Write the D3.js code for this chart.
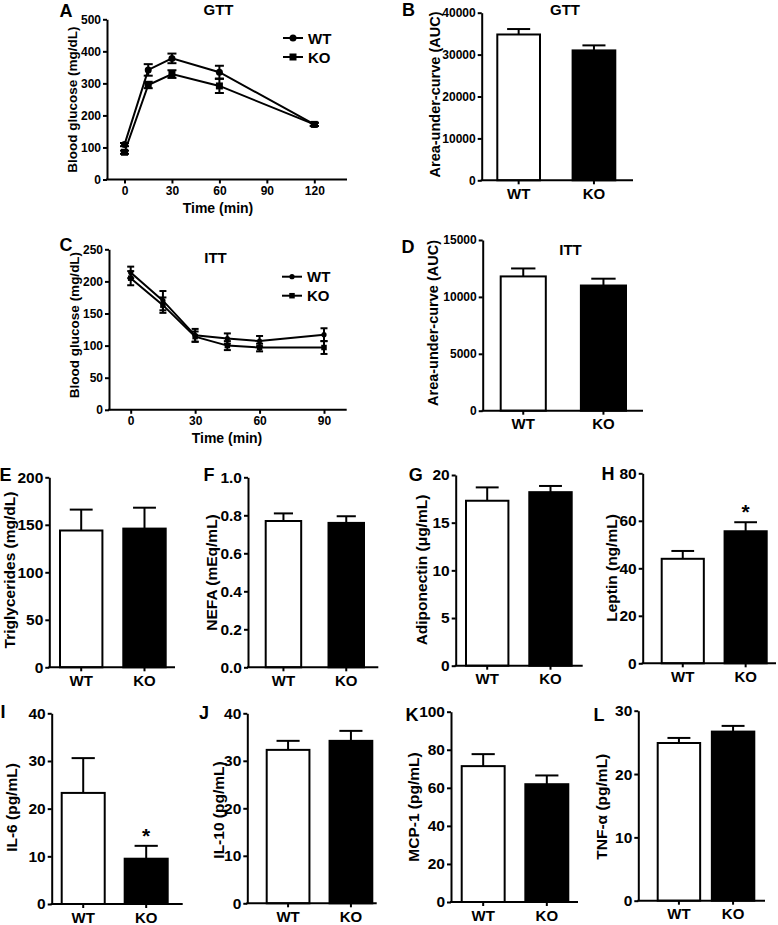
<!DOCTYPE html>
<html><head><meta charset="utf-8">
<script src="https://cdn.jsdelivr.net/npm/d3@7"></script>
<style>
body{margin:0;background:#fff}
svg{display:block}
text{font-family:"Liberation Sans",Arial,Helvetica,sans-serif;font-weight:bold;fill:#000}
</style>
</head><body>
<svg id="c" width="778" height="925"></svg>
<script>
// ---------------- data ----------------
const groups = ["WT", "KO"];

const gttTime = [0, 15, 30, 60, 120];
const gttWT = [109, 342, 378, 335, 172];
const gttWTsem = [5, 18, 15, 20, 5];
const gttKO = [85, 295, 329, 292, 172];
const gttKOsem = [5, 10, 12, 22, 5];
const gttTicksX = [0, 30, 60, 90, 120];
const gttTicksY = [0, 100, 200, 300, 400, 500];

const ittTime = [0, 15, 30, 45, 60, 90];
const ittWT = [214, 170, 116, 111, 107, 117];
const ittWTsem = [9, 15, 10, 8, 8, 10];
const ittKO = [205, 163, 114, 100, 97, 97];
const ittKOsem = [11, 12, 8, 7, 6, 10];
const ittTicksX = [0, 30, 60, 90];
const ittTicksY = [0, 50, 100, 150, 200, 250];

const aucGTT = [34800, 31000], aucGTTsem = [1300, 1200];
const aucITT = [11800, 11000], aucITTsem = [700, 600];
const triglycerides = [144, 146], triglyceridesSem = [22, 22];
const nefa = [0.77, 0.76], nefaSem = [0.04, 0.035];
const adiponectin = [17.3, 18.2], adiponectinSem = [1.4, 0.65];
const leptin = [44, 55.6], leptinSem = [3.3, 3.8];
const il6 = [23.3, 9.5], il6Sem = [7.3, 2.7];
const il10 = [32.3, 34.2], il10Sem = [1.9, 2.1];
const mcp1 = [71.4, 61.9], mcp1Sem = [6.3, 4.6];
const tnfa = [24.9, 26.7], tnfaSem = [0.8, 0.9];

const ticksB = [0, 10000, 20000, 30000, 40000];
const ticksD = [0, 5000, 10000, 15000];
const ticksE = [0, 50, 100, 150, 200];
const ticksF = [0, 0.2, 0.4, 0.6, 0.8, 1.0];
const ticksG = [0, 5, 10, 15, 20];
const ticksH = [0, 20, 40, 60, 80];
const ticksIJ = [0, 10, 20, 30, 40];
const ticksK = [0, 20, 40, 60, 80, 100];
const ticksL = [0, 10, 20, 30];

// ---------------- drawing ----------------
const svg = d3.select("#c");
svg.append("rect").attr("width", 778).attr("height", 925).attr("fill", "#fff");

function letter(t, x, y) {
  svg.append("text").attr("x", x).attr("y", y + 6.5).attr("text-anchor", "middle")
    .style("font-size", "18px").text(t);
}
function title(t, x, y) {
  svg.append("text").attr("x", x).attr("y", y + 5.3).attr("text-anchor", "middle")
    .style("font-size", "15px").text(t);
}
function yLabel(t, x, y, fs) {
  svg.append("text").attr("transform", `translate(${x},${y}) rotate(-90)`)
    .attr("text-anchor", "middle").style("font-size", fs + "px").text(t);
}
function styleAxis(g, fs) {
  g.selectAll("path.domain").attr("stroke", "#000").attr("stroke-width", 2);
  g.selectAll(".tick line").attr("stroke", "#000").attr("stroke-width", 2);
  g.selectAll(".tick text").style("font-size", fs + "px")
    .style("font-family", '"Liberation Sans",Arial,sans-serif').style("font-weight", "bold").attr("fill", "#000");
}

function linePanel(c) {
  const x = d3.scaleLinear().domain([0, c.xRef]).range([c.xa, c.xb]);
  const y = d3.scaleLinear().domain([0, c.yMax]).range([c.yBot, c.yTop]);
  const gy = svg.append("g").attr("transform", `translate(${c.x0},0)`)
    .call(d3.axisLeft(y).tickValues(c.ticksY).tickSize(4).tickPadding(2).tickSizeOuter(0));
  styleAxis(gy, c.tickFs);
  const gx = svg.append("g").attr("transform", `translate(0,${c.yBot})`)
    .call(d3.axisBottom(x).tickValues(c.ticksX).tickSize(4).tickPadding(3).tickSizeOuter(0));
  gx.select("path.domain").remove();
  styleAxis(gx, c.tickFs);
  svg.append("line").attr("x1", c.x0 - 1).attr("x2", c.x1).attr("y1", c.yBot).attr("y2", c.yBot)
    .attr("stroke", "#000").attr("stroke-width", 2);

  const series = [
    {v: c.wt, s: c.wtSem, shape: "circle"},
    {v: c.ko, s: c.koSem, shape: "square"}
  ];
  series.forEach(se => {
    const pts = c.time.map((t, i) => ({t, v: se.v[i], s: se.s[i]}));
    const g = svg.append("g");
    pts.forEach(p => {
      const cx = x(p.t);
      g.append("line").attr("x1", cx).attr("x2", cx).attr("y1", y(p.v - p.s)).attr("y2", y(p.v + p.s))
        .attr("stroke", "#000").attr("stroke-width", 2);
      [p.v - p.s, p.v + p.s].forEach(e => g.append("line").attr("x1", cx - c.cap / 2).attr("x2", cx + c.cap / 2)
        .attr("y1", y(e)).attr("y2", y(e)).attr("stroke", "#000").attr("stroke-width", 2));
    });
    g.append("path").datum(pts).attr("fill", "none").attr("stroke", "#000").attr("stroke-width", 2)
      .attr("d", d3.line().x(d => x(d.t)).y(d => y(d.v)));
    pts.forEach(p => {
      if (se.shape === "circle") g.append("circle").attr("cx", x(p.t)).attr("cy", y(p.v)).attr("r", c.r);
      else g.append("rect").attr("x", x(p.t) - c.sq / 2).attr("y", y(p.v) - c.sq / 2).attr("width", c.sq).attr("height", c.sq);
    });
  });
  // legend
  groups.forEach((gname, i) => {
    const ly = c.legY[i];
    svg.append("line").attr("x1", c.legX).attr("x2", c.legX + 20).attr("y1", ly).attr("y2", ly)
      .attr("stroke", "#000").attr("stroke-width", 2);
    if (i === 0) svg.append("circle").attr("cx", c.legX + 10).attr("cy", ly).attr("r", c.r);
    else svg.append("rect").attr("x", c.legX + 10 - c.sq / 2).attr("y", ly - c.sq / 2).attr("width", c.sq).attr("height", c.sq);
    svg.append("text").attr("x", c.legX + 25).attr("y", ly + 5.5).style("font-size", c.legFs + "px").text(gname);
  });
  letter(c.letter, c.lx, c.ly);
  title(c.title, c.tx, c.ty);
  yLabel("Blood glucose (mg/dL)", c.ylx, c.yly, 13.5);
  svg.append("text").attr("x", c.xlx).attr("y", c.xly).attr("text-anchor", "middle")
    .style("font-size", "14px").text("Time (min)");
}

function barPanel(c) {
  const x = d3.scaleBand().domain(groups).range([c.b0, c.b1]).paddingInner(c.p).paddingOuter(0);
  const y = d3.scaleLinear().domain([0, c.yMax]).range([c.yBot, c.yTop]);
  const bw = x.bandwidth();
  groups.forEach((gname, i) => {
    const v = c.vals[i], s = c.sems[i];
    const cx = x(gname) + bw / 2;
    svg.append("line").attr("x1", cx).attr("x2", cx).attr("y1", y(v)).attr("y2", y(v + s))
      .attr("stroke", "#000").attr("stroke-width", 2);
    svg.append("line").attr("x1", cx - bw * 0.27).attr("x2", cx + bw * 0.27).attr("y1", y(v + s)).attr("y2", y(v + s))
      .attr("stroke", "#000").attr("stroke-width", 2);
    svg.append("rect").attr("x", x(gname)).attr("y", y(v)).attr("width", bw).attr("height", y(0) - y(v))
      .attr("fill", i === 0 ? "#fff" : "#000").attr("stroke", "#000").attr("stroke-width", 2);
    if (c.star && i === 1) {
      svg.append("text").attr("x", cx).attr("y", y(v + s) - 3).attr("text-anchor", "middle")
        .style("font-size", "21px").text("*");
    }
  });
  const gy = svg.append("g").attr("transform", `translate(${c.x0},0)`)
    .call(d3.axisLeft(y).tickValues(c.ticks).tickFormat(d3.format(c.fmt)).tickSize(4).tickPadding(2).tickSizeOuter(0));
  styleAxis(gy, c.tickFs);
  const gx = svg.append("g").attr("transform", `translate(0,${c.yBot})`)
    .call(d3.axisBottom(x).tickSize(4).tickPadding(4).tickSizeOuter(0));
  gx.select("path.domain").remove();
  styleAxis(gx, 15);
  svg.append("line").attr("x1", c.x0 - 1).attr("x2", c.x1).attr("y1", c.yBot).attr("y2", c.yBot)
    .attr("stroke", "#000").attr("stroke-width", 2);
  letter(c.letter, c.lx, c.ly);
  if (c.title) title(c.title, c.tx, c.ty);
  yLabel(c.ylabel, c.ylx, c.yly, c.ylFs);
}

linePanel({
  letter: "A", lx: 66, ly: 10, title: "GTT", tx: 218.5, ty: 10,
  time: gttTime, wt: gttWT, wtSem: gttWTsem, ko: gttKO, koSem: gttKOsem,
  ticksX: gttTicksX, ticksY: gttTicksY, xRef: 120, xa: 124.5, xb: 314.3,
  x0: 107, x1: 347, yTop: 19.3, yBot: 179.5, yMax: 500,
  tickFs: 12, cap: 9, r: 3.5, sq: 7, legX: 283, legY: [38, 57], legFs: 15,
  ylx: 77, yly: 99.7, xlx: 218, xly: 212.5
});
linePanel({
  letter: "C", lx: 66, ly: 244.5, title: "ITT", tx: 215.5, ty: 257.5,
  time: ittTime, wt: ittWT, wtSem: ittWTsem, ko: ittKO, koSem: ittKOsem,
  ticksX: ittTicksX, ticksY: ittTicksY, xRef: 90, xa: 130.7, xb: 324,
  x0: 109, x1: 346.7, yTop: 249.3, yBot: 409.8, yMax: 250,
  tickFs: 12, cap: 7, r: 2.6, sq: 5.5, legX: 282, legY: [276.7, 295.7], legFs: 15,
  ylx: 79, yly: 325, xlx: 227, xly: 443
});

barPanel({letter: "B", lx: 408.5, ly: 9.5, title: "GTT", tx: 565, ty: 9.5,
  x0: 481.7, x1: 633, b0: 497.3, b1: 615.3, p: 0.433, yTop: 12.7, yBot: 180.3, yMax: 40000,
  ticks: ticksB, fmt: "d", vals: aucGTT, sems: aucGTTsem, ylabel: "Area-under-curve (AUC)",
  ylx: 440, yly: 94.5, tickFs: 12, ylFs: 14.5});
barPanel({letter: "D", lx: 408, ly: 246, title: "ITT", tx: 570.5, ty: 249.5,
  x0: 482.7, x1: 643, b0: 500.7, b1: 626, p: 0.4375, yTop: 240, yBot: 410.7, yMax: 15000,
  ticks: ticksD, fmt: "d", vals: aucITT, sems: aucITTsem, ylabel: "Area-under-curve (AUC)",
  ylx: 438, yly: 323, tickFs: 12, ylFs: 14.5});
barPanel({letter: "E", lx: 5.5, ly: 474,
  x0: 49.3, x1: 175, b0: 60, b1: 165.7, p: 0.33, yTop: 477.3, yBot: 667.3, yMax: 200,
  ticks: ticksE, fmt: "d", vals: triglycerides, sems: triglyceridesSem, ylabel: "Triglycerides (mg/dL)",
  ylx: 14.5, yly: 570, tickFs: 15.5, ylFs: 15.5});
barPanel({letter: "F", lx: 209, ly: 474.5,
  x0: 248, x1: 378.3, b0: 265.7, b1: 364, p: 0.435, yTop: 477.3, yBot: 667.3, yMax: 1.0,
  ticks: ticksF, fmt: ".1f", vals: nefa, sems: nefaSem, ylabel: "NEFA (mEq/mL)",
  ylx: 217, yly: 572.5, tickFs: 15.5, ylFs: 15.5});
barPanel({letter: "G", lx: 415.8, ly: 474,
  x0: 455.7, x1: 582.7, b0: 466, b1: 571.7, p: 0.33, yTop: 475, yBot: 665.7, yMax: 20,
  ticks: ticksG, fmt: "d", vals: adiponectin, sems: adiponectinSem, ylabel: "Adiponectin (μg/mL)",
  ylx: 427, yly: 570, tickFs: 15.5, ylFs: 15.5});
barPanel({letter: "H", lx: 608, ly: 473, star: true,
  x0: 642.7, x1: 776, b0: 661.7, b1: 766.7, p: 0.33, yTop: 473.3, yBot: 663.3, yMax: 80,
  ticks: ticksH, fmt: "d", vals: leptin, sems: leptinSem, ylabel: "Leptin (ng/mL)",
  ylx: 617, yly: 568, tickFs: 15.5, ylFs: 15.5});
barPanel({letter: "I", lx: 3, ly: 711, star: true,
  x0: 51.7, x1: 182.7, b0: 61.7, b1: 167.7, p: 0.317, yTop: 713.3, yBot: 904, yMax: 40,
  ticks: ticksIJ, fmt: "d", vals: il6, sems: il6Sem, ylabel: "IL-6 (pg/mL)",
  ylx: 17, yly: 807.5, tickFs: 15.5, ylFs: 15.5});
barPanel({letter: "J", lx: 204, ly: 712.5,
  x0: 247.3, x1: 376.7, b0: 266.7, b1: 372.3, p: 0.32, yTop: 713.3, yBot: 903.3, yMax: 40,
  ticks: ticksIJ, fmt: "d", vals: il10, sems: il10Sem, ylabel: "IL-10 (pg/mL)",
  ylx: 224, yly: 810, tickFs: 15.5, ylFs: 15.5});
barPanel({letter: "K", lx: 412, ly: 714,
  x0: 451, x1: 578, b0: 461.7, b1: 568.3, p: 0.325, yTop: 711.7, yBot: 902, yMax: 100,
  ticks: ticksK, fmt: "d", vals: mcp1, sems: mcp1Sem, ylabel: "MCP-1 (pg/mL)",
  ylx: 419, yly: 807, tickFs: 15.5, ylFs: 15.5});
barPanel({letter: "L", lx: 599, ly: 714,
  x0: 638.3, x1: 765, b0: 657.7, b1: 754.3, p: 0.216, yTop: 710.7, yBot: 900.7, yMax: 30,
  ticks: ticksL, fmt: "d", vals: tnfa, sems: tnfaSem, ylabel: "TNF-α (pg/mL)",
  ylx: 607, yly: 806.7, tickFs: 15.5, ylFs: 15.5});
</script>
</body></html>
